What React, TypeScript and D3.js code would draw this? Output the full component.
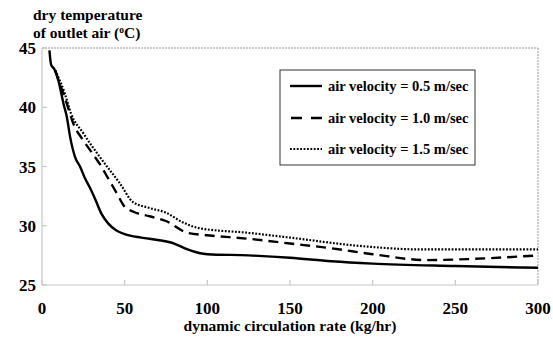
import React from "react";
import * as d3 from "d3";

const xTicks = [0, 50, 100, 150, 200, 250, 300];
const yTicks = [25, 30, 35, 40, 45];

const solidX = [4.5, 5.5, 7.5, 10, 13, 15, 17, 20, 23, 26, 29, 32, 36, 40, 45, 50, 60, 70, 80, 88, 95, 100, 125, 150, 175, 200, 250, 300];
const solidY = [44.8, 43.6, 43.2, 42.2, 40.3, 39.2, 37.5, 35.8, 35, 34, 33.2, 32.3, 31, 30.2, 29.6, 29.3, 29.0, 28.8, 28.5, 28.0, 27.7, 27.6, 27.5, 27.3, 27.0, 26.8, 26.6, 26.45];

const dashX = [8, 12, 15, 19, 25, 30, 35, 40, 45, 50, 55, 65, 75, 88, 100, 125, 150, 175, 200, 233, 260, 300];
const dashY = [43.1, 41.5, 40.3, 38.6, 37.2, 36.2, 35.2, 34, 32.8, 31.6, 31.2, 30.8, 30.4, 29.4, 29.2, 28.9, 28.5, 28.1, 27.6, 27.1, 27.2, 27.5];

const dotX = [8, 13.7, 17.5, 25, 35, 47, 55, 65, 75, 85, 95, 125, 150, 192, 230, 300];
const dotY = [43.1, 41.2, 39.5, 37.8, 35.8, 33.6, 32.0, 31.5, 31.1, 30.3, 29.8, 29.4, 29.0, 28.3, 28.0, 28.0];

const seriesLabels = ["air velocity = 0.5 m/sec", "air velocity = 1.0 m/sec", "air velocity = 1.5 m/sec"];

const FONT = "Liberation Serif, DejaVu Serif, serif";

export default function App() {
  const W = 553, H = 340;
  const x = d3.scaleLinear().domain([0, 300]).range([42, 538]);
  const y = d3.scaleLinear().domain([25, 45]).range([285, 48]);
  const line = d3.line<[number, number]>().x(d => x(d[0])).y(d => y(d[1])).curve(d3.curveMonotoneX);
  const series = [
    { xs: solidX, ys: solidY, dash: undefined as string | undefined, w: 2.4 },
    { xs: dashX, ys: dashY, dash: "10,6", w: 2.4 },
    { xs: dotX, ys: dotY, dash: "1.8,1.6", w: 2.2 },
  ];
  const legendY = [86, 118, 149];
  return (
    <svg width={W} height={H} style={{ position: "absolute", left: 0, top: 0, fontFamily: FONT }}>
      <rect width={W} height={H} fill="white" />
      <line x1={x(0)} x2={x(300)} y1={y(45)} y2={y(45)} stroke="#999" strokeDasharray="2,1" strokeWidth={1} />
      <line x1={x(300)} x2={x(300)} y1={y(45)} y2={y(25)} stroke="#999" strokeDasharray="2,1" strokeWidth={1} />
      <line x1={x(0)} x2={x(0)} y1={y(45)} y2={y(25)} stroke="#c8c8c8" strokeWidth={1.2} />
      <line x1={x(0)} x2={x(300)} y1={y(25)} y2={y(25)} stroke="#c8c8c8" strokeWidth={1.2} />
      {xTicks.map(t => (
        <g key={"x" + t}>
          <line x1={x(t)} x2={x(t)} y1={y(25)} y2={y(25) - 5} stroke="#c8c8c8" strokeWidth={1.2} />
          <text x={x(t)} y={314} textAnchor="middle" fontSize={17} fontWeight="bold">{t}</text>
        </g>
      ))}
      {yTicks.map(t => (
        <g key={"y" + t}>
          <line x1={x(0)} x2={x(0) + 5} y1={y(t)} y2={y(t)} stroke="#c8c8c8" strokeWidth={1.2} />
          <text x={36} y={y(t) + 6} textAnchor="end" fontSize={17} fontWeight="bold">{t}</text>
        </g>
      ))}
      {series.map((s, i) => (
        <path key={i} d={line(s.xs.map((v, j) => [v, s.ys[j]]) as [number, number][]) || ""} fill="none" stroke="black" strokeWidth={s.w} strokeDasharray={s.dash} />
      ))}
      <rect x={280} y={70} width={195} height={95} fill="white" stroke="#333" strokeWidth={1} />
      {series.map((s, i) => (
        <g key={"l" + i} transform={`translate(0,${legendY[i]})`}>
          <path d={i === 1 ? "M291,0H302M311,0H322" : "M290,0H322"} stroke="black" strokeWidth={s.w} strokeDasharray={i === 2 ? s.dash : undefined} fill="none" />
          <text x={328} y={5} fontSize={14.5} fontWeight="bold">{seriesLabels[i]}</text>
        </g>
      ))}
      <text x={33} y={20} fontSize={15.5} fontWeight="bold">dry temperature</text>
      <text x={33} y={38} fontSize={15.5} fontWeight="bold">
        of outlet air (<tspan fontSize={9.5} dy={-5}>o</tspan><tspan dy={5}>C)</tspan>
      </text>
      <text x={290} y={331} textAnchor="middle" fontSize={15.5} fontWeight="bold">dynamic circulation rate (kg/hr)</text>
    </svg>
  );
}
